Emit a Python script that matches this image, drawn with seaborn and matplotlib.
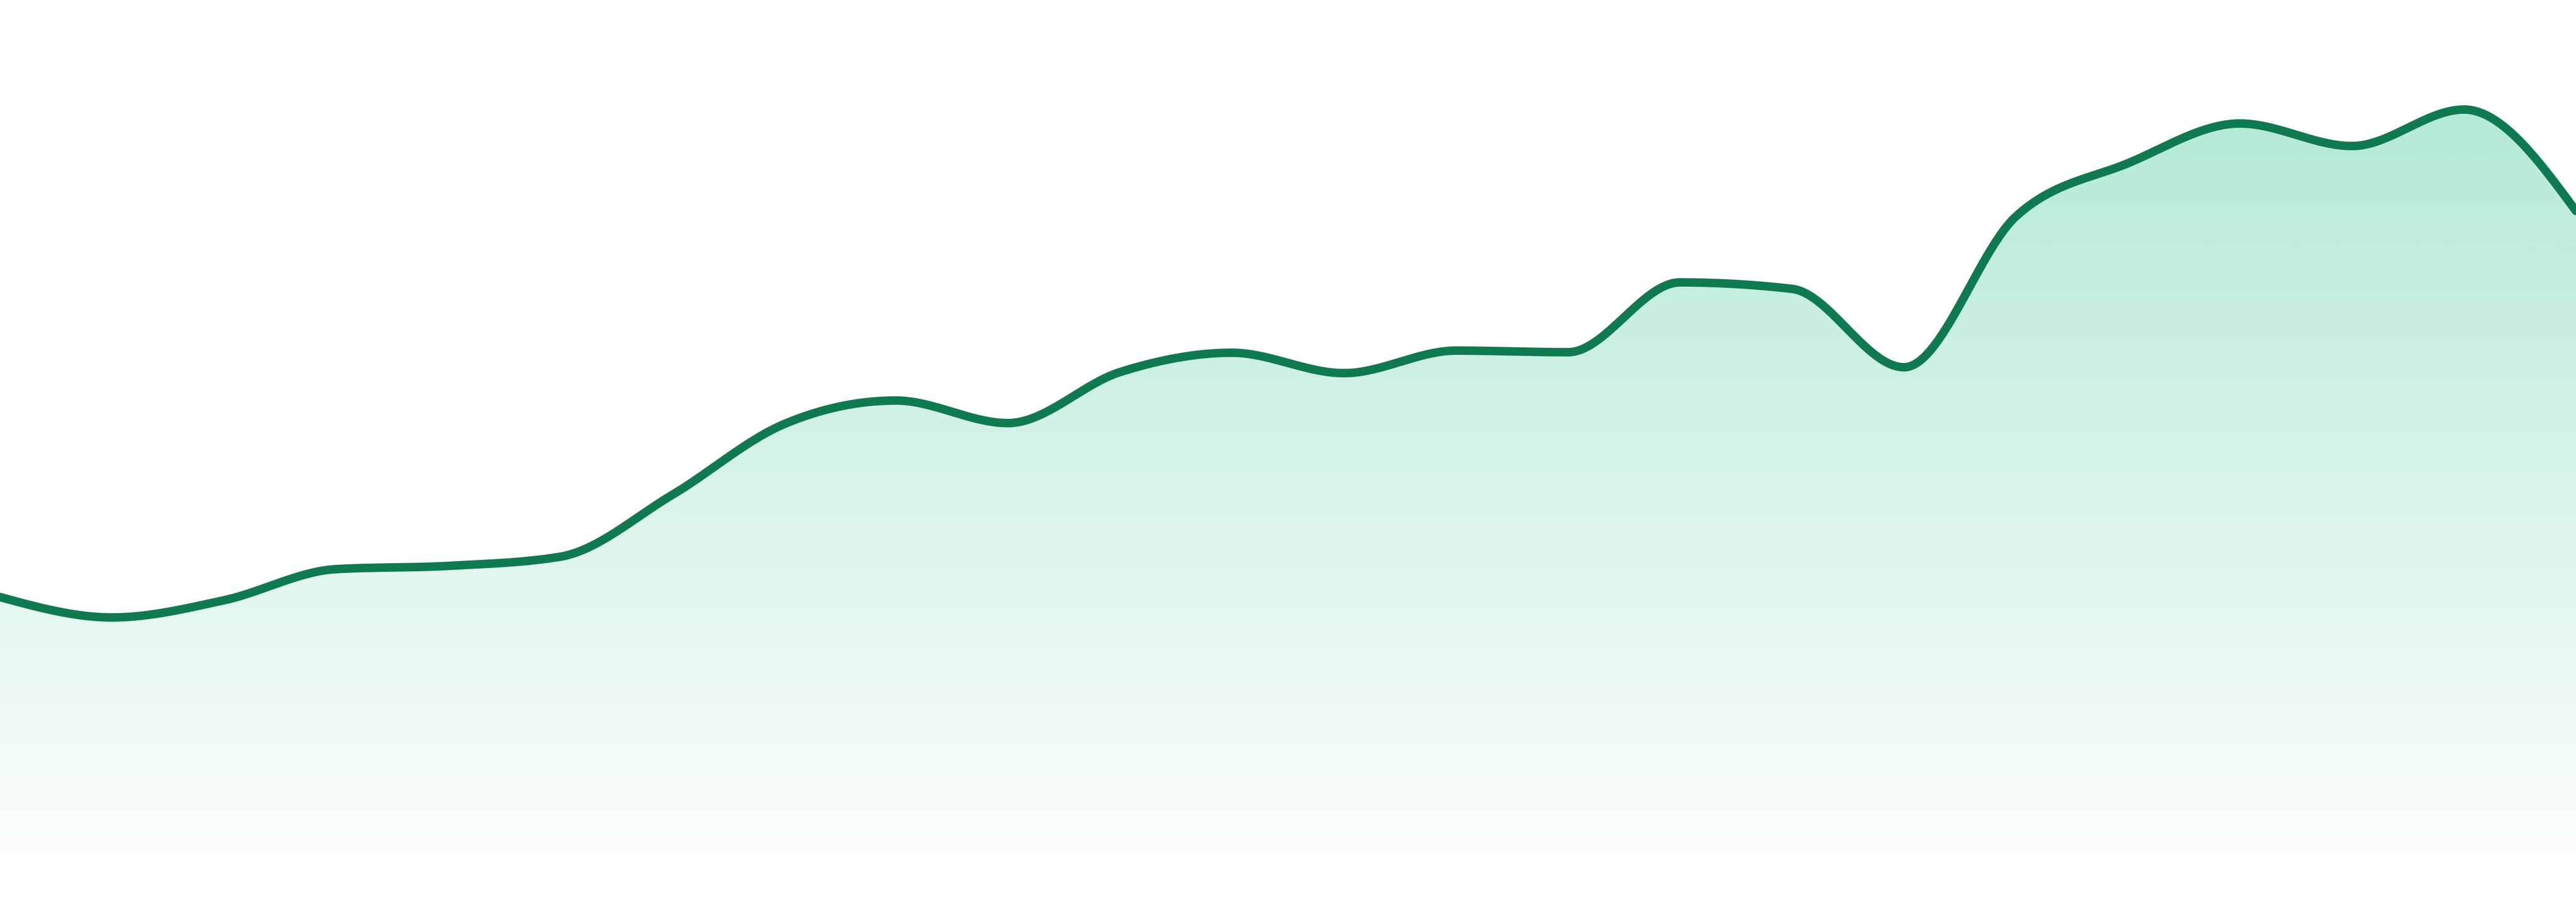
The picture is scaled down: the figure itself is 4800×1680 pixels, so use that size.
import numpy as np
import pandas as pd
import matplotlib
matplotlib.use("Agg")
import matplotlib.pyplot as plt
from matplotlib.patches import Polygon
import seaborn as sns

# ---- data ----
periods = list(range(24))
values = [51.8, 48.0, 51.2, 57.0, 57.6, 59.3, 70.8, 84.0, 88.4, 84.2, 93.7, 97.3,
          93.5, 97.7, 97.4, 110.4, 109.2, 94.6, 122.7, 132.6, 140.0, 135.8, 142.6, 123.7]

LINE_COLOR = "#0f7a50"
FILL_RGB = (16 / 255, 185 / 255, 129 / 255)
Y_MIN, Y_MAX = -5, 163


def monotone_curve(xs, ys, n=60):
    """Monotone cubic (Steffen, as d3.curveMonotoneX) for drawing a smooth line."""
    xs = np.asarray(xs, float)
    ys = np.asarray(ys, float)
    h = np.diff(xs)
    s = np.diff(ys) / h
    m = np.zeros_like(ys)
    for i in range(1, len(ys) - 1):
        s0, s1 = s[i - 1], s[i]
        p = (s0 * h[i] + s1 * h[i - 1]) / (h[i - 1] + h[i])
        m[i] = (np.sign(s0) + np.sign(s1)) * min(abs(s0), abs(s1), 0.5 * abs(p))
    m[0] = (3 * s[0] - m[1]) / 2
    m[-1] = (3 * s[-1] - m[-2]) / 2
    out_x, out_y = [], []
    for i in range(len(xs) - 1):
        t = np.linspace(0, 1, n, endpoint=(i == len(xs) - 2))
        h00 = 2 * t**3 - 3 * t**2 + 1
        h10 = t**3 - 2 * t**2 + t
        h01 = -2 * t**3 + 3 * t**2
        h11 = t**3 - t**2
        out_x.append(xs[i] + t * h[i])
        out_y.append(h00 * ys[i] + h10 * h[i] * m[i] + h01 * ys[i + 1] + h11 * h[i] * m[i + 1])
    return np.concatenate(out_x), np.concatenate(out_y)


xd, yd = monotone_curve(periods, values)
df = pd.DataFrame({"period": xd, "value": yd})

sns.set_theme(style="white")
fig = plt.figure(figsize=(16, 5.6), dpi=300)
ax = fig.add_axes([0, 0, 1, 1])
ax.set_xlim(periods[0], periods[-1])
ax.set_ylim(Y_MIN, Y_MAX)
ax.axis("off")

# gradient fill under the curve
vv = np.linspace(Y_MIN, Y_MAX, 512)
alpha = np.clip(0.36 * (25 + 10 * vv) / 1655, 0, 1)
grad = np.zeros((len(vv), 1, 4))
grad[..., 0], grad[..., 1], grad[..., 2] = FILL_RGB
grad[:, 0, 3] = alpha
im = ax.imshow(grad, extent=[periods[0], periods[-1], Y_MIN, Y_MAX],
               origin="lower", aspect="auto", interpolation="bicubic", zorder=1)
verts = np.column_stack([np.r_[xd, xd[-1], xd[0]], np.r_[yd, Y_MIN, Y_MIN]])
clip = Polygon(verts, closed=True, facecolor="none", edgecolor="none", transform=ax.transData)
ax.add_patch(clip)
im.set_clip_path(clip)

sns.lineplot(data=df, x="period", y="value", ax=ax, color=LINE_COLOR,
             linewidth=3.8, sort=False, estimator=None, zorder=3)
ax.set_xlim(periods[0], periods[-1])
ax.set_ylim(Y_MIN, Y_MAX)
ax.axis("off")

fig.savefig("out.png", dpi=300, facecolor="white")
